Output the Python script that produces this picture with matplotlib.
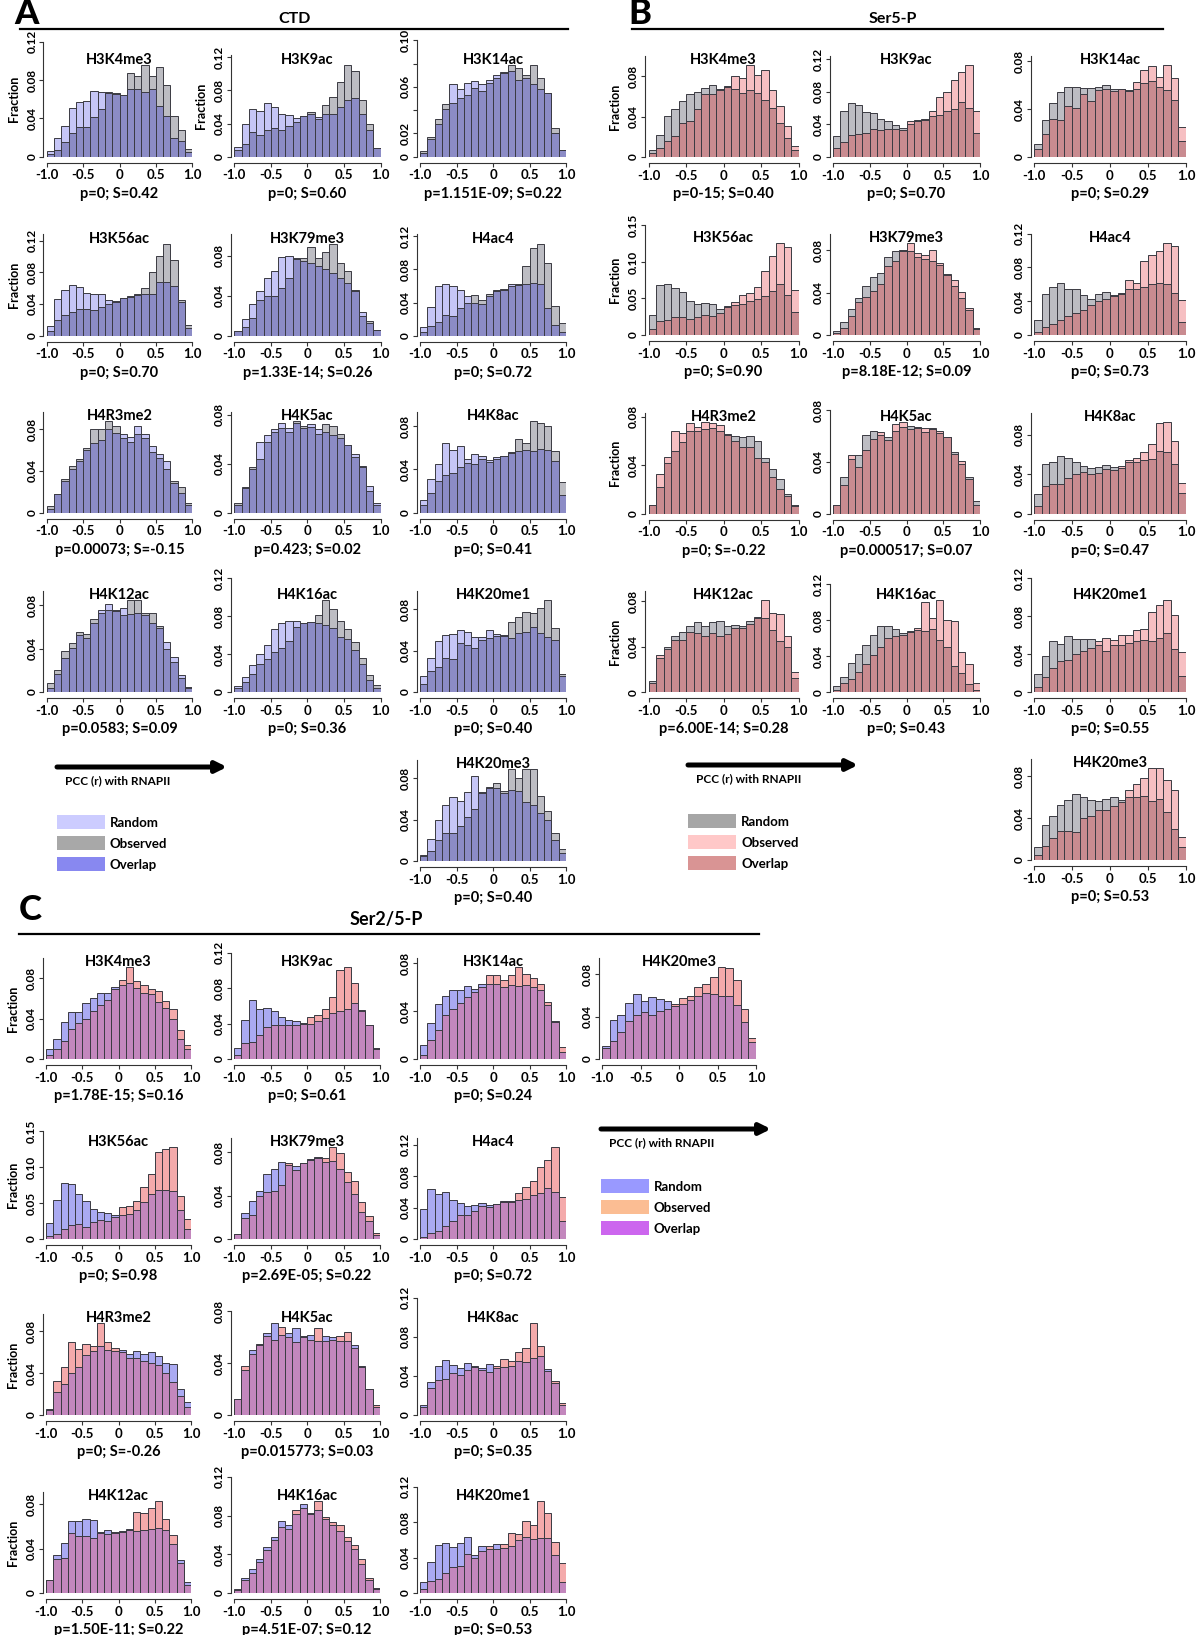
import numpy as np
import matplotlib
matplotlib.use("Agg")
from matplotlib import pyplot as plt
from matplotlib.patches import Rectangle

plt.rcParams['font.family'] = ['Liberation Sans Narrow', 'Lato', 'DejaVu Sans']
plt.rcParams['font.weight'] = 'bold'

BIN_EDGES = np.linspace(-1.0, 1.0, 21)
X_TICKS = [-1.0, -0.5, 0.0, 0.5, 1.0]
X_LABELS = ['-1.0', '-0.5', '0', '0.5', '1.0']

# ---------------- A : CTD ----------------
ctd_marks = ['H3K4me3', 'H3K9ac', 'H3K14ac', 'H3K56ac', 'H3K79me3', 'H4ac4', 'H4R3me2',
             'H4K5ac', 'H4K8ac', 'H4K12ac', 'H4K16ac', 'H4K20me1', 'H4K20me3']
ctd_stats = ['p=0; S=0.42', 'p=0; S=0.60', 'p=1.151E-09; S=0.22', 'p=0; S=0.70',
             'p=1.33E-14; S=0.26', 'p=0; S=0.72', 'p=0.00073; S=-0.15', 'p=0.423; S=0.02',
             'p=0; S=0.41', 'p=0.0583; S=0.09', 'p=0; S=0.36', 'p=0; S=0.40', 'p=0; S=0.40']
ctd_yticks = [[0, .04, .08, .12], [0, .04, .08, .12], [0, .02, .04, .06, .08, .10],
              [0, .04, .08, .12], [0, .04, .08], [0, .04, .08, .12], [0, .04, .08],
              [0, .04, .08], [0, .04, .08], [0, .04, .08], [0, .04, .08, .12],
              [0, .04, .08], [0, .04, .08]]
ctd_random = [
    [0.006, 0.020, 0.032, 0.051, 0.057, 0.058, 0.069, 0.067, 0.067, 0.066, 0.064, 0.071, 0.071, 0.067, 0.071, 0.053, 0.042, 0.020, 0.016, 0.005],
    [0.012, 0.039, 0.058, 0.055, 0.065, 0.060, 0.052, 0.050, 0.047, 0.049, 0.052, 0.048, 0.052, 0.052, 0.060, 0.069, 0.071, 0.052, 0.032, 0.011],
    [0.003, 0.015, 0.028, 0.041, 0.062, 0.058, 0.063, 0.065, 0.062, 0.066, 0.070, 0.072, 0.074, 0.066, 0.068, 0.062, 0.058, 0.055, 0.020, 0.006],
    [0.012, 0.046, 0.057, 0.064, 0.061, 0.054, 0.052, 0.053, 0.045, 0.044, 0.048, 0.050, 0.051, 0.053, 0.053, 0.068, 0.068, 0.063, 0.043, 0.010],
    [0.005, 0.017, 0.032, 0.045, 0.058, 0.065, 0.079, 0.080, 0.078, 0.075, 0.073, 0.070, 0.067, 0.063, 0.058, 0.053, 0.045, 0.024, 0.013, 0.006],
    [0.010, 0.035, 0.060, 0.062, 0.060, 0.055, 0.048, 0.040, 0.038, 0.048, 0.054, 0.055, 0.062, 0.061, 0.062, 0.063, 0.062, 0.033, 0.013, 0.005],
    [0.004, 0.018, 0.030, 0.042, 0.049, 0.060, 0.067, 0.070, 0.080, 0.076, 0.075, 0.072, 0.083, 0.075, 0.064, 0.056, 0.049, 0.028, 0.019, 0.007],
    [0.006, 0.020, 0.036, 0.058, 0.063, 0.068, 0.073, 0.069, 0.073, 0.069, 0.072, 0.068, 0.066, 0.063, 0.061, 0.055, 0.048, 0.038, 0.022, 0.008],
    [0.012, 0.031, 0.045, 0.064, 0.058, 0.062, 0.050, 0.054, 0.052, 0.049, 0.051, 0.052, 0.055, 0.057, 0.058, 0.057, 0.059, 0.058, 0.048, 0.016],
    [0.004, 0.017, 0.031, 0.041, 0.053, 0.050, 0.064, 0.076, 0.081, 0.076, 0.078, 0.072, 0.073, 0.071, 0.064, 0.059, 0.046, 0.032, 0.016, 0.004],
    [0.006, 0.016, 0.028, 0.040, 0.050, 0.066, 0.073, 0.075, 0.075, 0.073, 0.074, 0.073, 0.071, 0.067, 0.058, 0.056, 0.044, 0.030, 0.013, 0.004],
    [0.015, 0.033, 0.049, 0.055, 0.056, 0.060, 0.058, 0.053, 0.053, 0.060, 0.056, 0.055, 0.052, 0.057, 0.058, 0.063, 0.057, 0.053, 0.050, 0.015],
    [0.005, 0.021, 0.040, 0.054, 0.062, 0.058, 0.067, 0.082, 0.066, 0.071, 0.071, 0.066, 0.069, 0.068, 0.057, 0.054, 0.046, 0.040, 0.020, 0.008],
]
ctd_observed = [
    [0.003, 0.007, 0.015, 0.025, 0.031, 0.031, 0.041, 0.050, 0.066, 0.065, 0.064, 0.087, 0.084, 0.096, 0.084, 0.094, 0.075, 0.042, 0.028, 0.008],
    [0.008, 0.015, 0.030, 0.026, 0.032, 0.035, 0.032, 0.037, 0.042, 0.049, 0.054, 0.045, 0.062, 0.072, 0.090, 0.111, 0.103, 0.068, 0.040, 0.010],
    [0.005, 0.017, 0.032, 0.045, 0.046, 0.050, 0.053, 0.059, 0.056, 0.063, 0.068, 0.073, 0.079, 0.076, 0.070, 0.079, 0.068, 0.055, 0.025, 0.006],
    [0.006, 0.020, 0.026, 0.030, 0.034, 0.034, 0.033, 0.036, 0.040, 0.042, 0.047, 0.049, 0.053, 0.060, 0.080, 0.101, 0.116, 0.096, 0.045, 0.014],
    [0.005, 0.009, 0.018, 0.036, 0.040, 0.040, 0.048, 0.058, 0.077, 0.078, 0.089, 0.078, 0.084, 0.092, 0.073, 0.065, 0.046, 0.020, 0.015, 0.006],
    [0.004, 0.012, 0.017, 0.025, 0.024, 0.034, 0.040, 0.049, 0.043, 0.050, 0.055, 0.056, 0.060, 0.062, 0.084, 0.106, 0.111, 0.088, 0.036, 0.015],
    [0.006, 0.018, 0.032, 0.045, 0.051, 0.062, 0.080, 0.080, 0.088, 0.083, 0.071, 0.068, 0.075, 0.071, 0.058, 0.052, 0.042, 0.030, 0.025, 0.009],
    [0.008, 0.021, 0.037, 0.044, 0.058, 0.066, 0.069, 0.066, 0.075, 0.071, 0.070, 0.064, 0.072, 0.071, 0.064, 0.055, 0.045, 0.037, 0.018, 0.006],
    [0.007, 0.018, 0.029, 0.035, 0.037, 0.042, 0.046, 0.045, 0.050, 0.047, 0.050, 0.052, 0.056, 0.068, 0.064, 0.085, 0.083, 0.080, 0.057, 0.028],
    [0.008, 0.020, 0.038, 0.045, 0.055, 0.054, 0.067, 0.073, 0.076, 0.075, 0.071, 0.085, 0.085, 0.073, 0.073, 0.061, 0.040, 0.028, 0.013, 0.005],
    [0.004, 0.011, 0.019, 0.030, 0.035, 0.042, 0.046, 0.054, 0.069, 0.073, 0.074, 0.081, 0.097, 0.088, 0.075, 0.066, 0.053, 0.036, 0.018, 0.007],
    [0.008, 0.020, 0.024, 0.033, 0.032, 0.047, 0.045, 0.043, 0.050, 0.052, 0.054, 0.054, 0.068, 0.073, 0.077, 0.076, 0.081, 0.089, 0.062, 0.017],
    [0.006, 0.010, 0.020, 0.027, 0.027, 0.034, 0.043, 0.050, 0.067, 0.072, 0.075, 0.068, 0.089, 0.080, 0.089, 0.089, 0.063, 0.048, 0.027, 0.012],
]

# ---------------- B : Ser5-P ----------------
ser5_marks = ctd_marks
ser5_stats = ['p=0-15; S=0.40', 'p=0; S=0.70', 'p=0; S=0.29', 'p=0; S=0.90',
              'p=8.18E-12; S=0.09', 'p=0; S=0.73', 'p=0; S=-0.22', 'p=0.000517; S=0.07',
              'p=0; S=0.47', 'p=6.00E-14; S=0.28', 'p=0; S=0.43', 'p=0; S=0.55', 'p=0; S=0.53']
ser5_yticks = [[0, .04, .08], [0, .04, .08, .12], [0, .04, .08], [0, .05, .10, .15],
               [0, .04, .08], [0, .04, .08, .12], [0, .04, .08], [0, .04, .08],
               [0, .04, .08], [0, .04, .08], [0, .04, .08, .12], [0, .04, .08, .12],
               [0, .04, .08]]
ser5_random = [
    [0.007, 0.022, 0.041, 0.047, 0.055, 0.062, 0.064, 0.068, 0.071, 0.066, 0.069, 0.067, 0.063, 0.066, 0.063, 0.056, 0.048, 0.034, 0.019, 0.007],
    [0.026, 0.056, 0.066, 0.064, 0.055, 0.054, 0.047, 0.044, 0.039, 0.036, 0.041, 0.044, 0.045, 0.050, 0.052, 0.057, 0.059, 0.068, 0.060, 0.029],
    [0.011, 0.031, 0.045, 0.054, 0.059, 0.059, 0.058, 0.058, 0.059, 0.060, 0.057, 0.057, 0.056, 0.057, 0.062, 0.064, 0.059, 0.056, 0.048, 0.013],
    [0.028, 0.068, 0.070, 0.064, 0.059, 0.047, 0.043, 0.044, 0.043, 0.036, 0.038, 0.041, 0.043, 0.046, 0.049, 0.054, 0.060, 0.070, 0.055, 0.032],
    [0.004, 0.012, 0.025, 0.035, 0.046, 0.055, 0.059, 0.074, 0.079, 0.079, 0.079, 0.074, 0.072, 0.070, 0.066, 0.057, 0.046, 0.035, 0.024, 0.007],
    [0.018, 0.048, 0.057, 0.062, 0.054, 0.054, 0.047, 0.043, 0.048, 0.051, 0.046, 0.049, 0.055, 0.054, 0.057, 0.060, 0.062, 0.061, 0.050, 0.015],
    [0.007, 0.022, 0.042, 0.052, 0.059, 0.068, 0.068, 0.070, 0.071, 0.068, 0.066, 0.064, 0.063, 0.064, 0.060, 0.046, 0.037, 0.029, 0.016, 0.006],
    [0.007, 0.028, 0.042, 0.045, 0.061, 0.064, 0.061, 0.059, 0.064, 0.067, 0.068, 0.066, 0.063, 0.066, 0.062, 0.059, 0.048, 0.038, 0.028, 0.010],
    [0.020, 0.050, 0.052, 0.058, 0.056, 0.052, 0.048, 0.046, 0.047, 0.049, 0.047, 0.046, 0.052, 0.052, 0.054, 0.055, 0.063, 0.062, 0.050, 0.021],
    [0.010, 0.030, 0.040, 0.050, 0.053, 0.058, 0.062, 0.058, 0.062, 0.063, 0.058, 0.059, 0.058, 0.063, 0.065, 0.065, 0.055, 0.045, 0.040, 0.013],
    [0.007, 0.017, 0.032, 0.043, 0.052, 0.063, 0.073, 0.073, 0.070, 0.066, 0.067, 0.069, 0.068, 0.070, 0.058, 0.050, 0.029, 0.021, 0.009, 0.002],
    [0.019, 0.038, 0.054, 0.051, 0.059, 0.056, 0.056, 0.056, 0.050, 0.044, 0.050, 0.050, 0.052, 0.054, 0.055, 0.054, 0.057, 0.062, 0.046, 0.017],
    [0.012, 0.033, 0.042, 0.053, 0.057, 0.063, 0.060, 0.057, 0.056, 0.058, 0.060, 0.057, 0.060, 0.060, 0.061, 0.056, 0.058, 0.046, 0.030, 0.012],
]
ser5_observed = [
    [0.004, 0.009, 0.016, 0.021, 0.034, 0.036, 0.047, 0.062, 0.062, 0.067, 0.070, 0.080, 0.078, 0.091, 0.081, 0.086, 0.066, 0.050, 0.031, 0.011],
    [0.011, 0.019, 0.027, 0.028, 0.029, 0.034, 0.033, 0.035, 0.034, 0.033, 0.044, 0.045, 0.047, 0.057, 0.074, 0.080, 0.095, 0.105, 0.113, 0.057],
    [0.007, 0.019, 0.032, 0.031, 0.043, 0.041, 0.053, 0.047, 0.056, 0.057, 0.055, 0.057, 0.055, 0.063, 0.073, 0.076, 0.067, 0.077, 0.066, 0.025],
    [0.008, 0.019, 0.020, 0.024, 0.025, 0.022, 0.025, 0.028, 0.026, 0.030, 0.040, 0.045, 0.055, 0.058, 0.066, 0.088, 0.108, 0.126, 0.121, 0.062],
    [0.002, 0.007, 0.018, 0.031, 0.036, 0.042, 0.048, 0.065, 0.070, 0.080, 0.087, 0.078, 0.076, 0.080, 0.068, 0.058, 0.052, 0.041, 0.026, 0.006],
    [0.003, 0.009, 0.013, 0.018, 0.023, 0.026, 0.030, 0.036, 0.040, 0.043, 0.047, 0.050, 0.065, 0.062, 0.088, 0.095, 0.100, 0.109, 0.105, 0.042],
    [0.007, 0.033, 0.047, 0.068, 0.067, 0.075, 0.072, 0.076, 0.075, 0.073, 0.065, 0.060, 0.055, 0.055, 0.046, 0.043, 0.030, 0.020, 0.015, 0.007],
    [0.007, 0.022, 0.045, 0.036, 0.049, 0.058, 0.063, 0.057, 0.069, 0.071, 0.065, 0.067, 0.066, 0.065, 0.064, 0.059, 0.046, 0.041, 0.027, 0.007],
    [0.008, 0.028, 0.030, 0.030, 0.036, 0.040, 0.042, 0.040, 0.041, 0.045, 0.044, 0.048, 0.054, 0.056, 0.062, 0.070, 0.092, 0.093, 0.073, 0.031],
    [0.008, 0.033, 0.038, 0.046, 0.046, 0.053, 0.052, 0.050, 0.052, 0.050, 0.051, 0.057, 0.057, 0.060, 0.066, 0.081, 0.070, 0.069, 0.050, 0.018],
    [0.003, 0.010, 0.015, 0.023, 0.031, 0.041, 0.050, 0.060, 0.062, 0.063, 0.068, 0.071, 0.100, 0.082, 0.102, 0.080, 0.079, 0.045, 0.031, 0.010],
    [0.006, 0.016, 0.026, 0.033, 0.034, 0.040, 0.044, 0.047, 0.054, 0.057, 0.055, 0.060, 0.060, 0.066, 0.067, 0.085, 0.092, 0.097, 0.081, 0.043],
    [0.005, 0.013, 0.021, 0.028, 0.028, 0.027, 0.040, 0.042, 0.048, 0.048, 0.052, 0.055, 0.067, 0.073, 0.078, 0.088, 0.088, 0.077, 0.067, 0.022],
]

# ---------------- C : Ser2/5-P ----------------
ser25_marks = ['H3K4me3', 'H3K9ac', 'H3K14ac', 'H4K20me3', 'H3K56ac', 'H3K79me3', 'H4ac4',
               'H4R3me2', 'H4K5ac', 'H4K8ac', 'H4K12ac', 'H4K16ac', 'H4K20me1']
ser25_stats = ['p=1.78E-15; S=0.16', 'p=0; S=0.61', 'p=0; S=0.24', '',
               'p=0; S=0.98', 'p=2.69E-05; S=0.22', 'p=0; S=0.72', 'p=0; S=-0.26',
               'p=0.015773; S=0.03', 'p=0; S=0.35', 'p=1.50E-11; S=0.22', 'p=4.51E-07; S=0.12',
               'p=0; S=0.53']
ser25_yticks = [[0, .04, .08], [0, .04, .08, .12], [0, .04, .08], [0, .04, .08],
                [0, .05, .10, .15], [0, .04, .08], [0, .04, .08, .12], [0, .04, .08],
                [0, .04, .08], [0, .04, .08, .12], [0, .04, .08], [0, .04, .08, .12],
                [0, .04, .08, .12]]
ser25_random = [
    [0.010, 0.020, 0.037, 0.046, 0.046, 0.055, 0.060, 0.065, 0.065, 0.071, 0.073, 0.075, 0.070, 0.065, 0.064, 0.056, 0.050, 0.040, 0.020, 0.010],
    [0.012, 0.044, 0.067, 0.057, 0.058, 0.054, 0.047, 0.044, 0.043, 0.041, 0.040, 0.043, 0.046, 0.052, 0.054, 0.056, 0.063, 0.054, 0.038, 0.011],
    [0.012, 0.030, 0.046, 0.053, 0.058, 0.058, 0.061, 0.059, 0.063, 0.063, 0.063, 0.060, 0.062, 0.061, 0.062, 0.060, 0.058, 0.045, 0.031, 0.006],
    [0.012, 0.037, 0.042, 0.053, 0.061, 0.055, 0.059, 0.057, 0.055, 0.050, 0.052, 0.056, 0.060, 0.062, 0.061, 0.060, 0.060, 0.051, 0.035, 0.016],
    [0.022, 0.054, 0.078, 0.076, 0.062, 0.053, 0.042, 0.038, 0.036, 0.034, 0.033, 0.035, 0.040, 0.052, 0.062, 0.068, 0.068, 0.067, 0.040, 0.014],
    [0.005, 0.024, 0.035, 0.044, 0.060, 0.065, 0.071, 0.068, 0.067, 0.070, 0.074, 0.076, 0.071, 0.072, 0.065, 0.053, 0.042, 0.025, 0.017, 0.004],
    [0.038, 0.063, 0.057, 0.060, 0.049, 0.046, 0.042, 0.043, 0.046, 0.043, 0.045, 0.047, 0.047, 0.049, 0.051, 0.056, 0.059, 0.065, 0.060, 0.023],
    [0.006, 0.022, 0.030, 0.040, 0.046, 0.057, 0.061, 0.066, 0.062, 0.061, 0.062, 0.058, 0.061, 0.058, 0.060, 0.056, 0.050, 0.049, 0.025, 0.012],
    [0.012, 0.035, 0.050, 0.054, 0.063, 0.071, 0.062, 0.063, 0.067, 0.061, 0.062, 0.057, 0.061, 0.060, 0.057, 0.057, 0.054, 0.038, 0.020, 0.006],
    [0.010, 0.034, 0.050, 0.056, 0.051, 0.048, 0.053, 0.050, 0.048, 0.052, 0.048, 0.049, 0.050, 0.055, 0.054, 0.058, 0.060, 0.047, 0.033, 0.010],
    [0.012, 0.034, 0.045, 0.065, 0.065, 0.067, 0.066, 0.055, 0.057, 0.054, 0.055, 0.058, 0.056, 0.057, 0.058, 0.059, 0.057, 0.044, 0.030, 0.010],
    [0.003, 0.015, 0.025, 0.035, 0.048, 0.058, 0.074, 0.070, 0.082, 0.092, 0.083, 0.086, 0.076, 0.070, 0.064, 0.054, 0.045, 0.030, 0.013, 0.004],
    [0.013, 0.035, 0.054, 0.057, 0.052, 0.057, 0.063, 0.043, 0.053, 0.050, 0.055, 0.051, 0.053, 0.060, 0.063, 0.061, 0.062, 0.062, 0.043, 0.013],
]
ser25_observed = [
    [0.004, 0.010, 0.018, 0.030, 0.036, 0.040, 0.047, 0.053, 0.058, 0.069, 0.078, 0.091, 0.077, 0.073, 0.069, 0.067, 0.057, 0.049, 0.029, 0.014],
    [0.005, 0.018, 0.019, 0.027, 0.036, 0.039, 0.038, 0.039, 0.038, 0.040, 0.047, 0.050, 0.057, 0.070, 0.101, 0.104, 0.086, 0.055, 0.038, 0.013],
    [0.003, 0.016, 0.024, 0.037, 0.042, 0.047, 0.052, 0.056, 0.060, 0.070, 0.070, 0.066, 0.070, 0.077, 0.071, 0.068, 0.063, 0.048, 0.032, 0.010],
    [0.010, 0.017, 0.026, 0.036, 0.042, 0.044, 0.042, 0.045, 0.047, 0.052, 0.058, 0.060, 0.068, 0.071, 0.078, 0.087, 0.086, 0.075, 0.047, 0.020],
    [0.004, 0.007, 0.014, 0.019, 0.021, 0.017, 0.023, 0.027, 0.025, 0.030, 0.044, 0.046, 0.053, 0.073, 0.091, 0.121, 0.125, 0.128, 0.060, 0.028],
    [0.005, 0.019, 0.022, 0.040, 0.043, 0.044, 0.050, 0.070, 0.064, 0.070, 0.073, 0.075, 0.075, 0.085, 0.079, 0.062, 0.054, 0.034, 0.021, 0.006],
    [0.002, 0.007, 0.010, 0.017, 0.023, 0.031, 0.030, 0.035, 0.042, 0.041, 0.044, 0.048, 0.048, 0.058, 0.066, 0.074, 0.092, 0.100, 0.117, 0.053],
    [0.005, 0.033, 0.046, 0.070, 0.063, 0.068, 0.066, 0.088, 0.070, 0.064, 0.060, 0.055, 0.055, 0.052, 0.050, 0.048, 0.040, 0.032, 0.018, 0.008],
    [0.012, 0.038, 0.047, 0.055, 0.061, 0.058, 0.068, 0.060, 0.056, 0.060, 0.058, 0.067, 0.057, 0.058, 0.061, 0.064, 0.052, 0.037, 0.020, 0.008],
    [0.008, 0.028, 0.036, 0.037, 0.043, 0.041, 0.046, 0.049, 0.046, 0.044, 0.050, 0.057, 0.055, 0.064, 0.068, 0.094, 0.071, 0.045, 0.035, 0.012],
    [0.012, 0.031, 0.032, 0.054, 0.051, 0.051, 0.050, 0.054, 0.053, 0.055, 0.056, 0.057, 0.073, 0.072, 0.077, 0.083, 0.067, 0.052, 0.027, 0.007],
    [0.004, 0.013, 0.021, 0.032, 0.044, 0.055, 0.068, 0.066, 0.086, 0.088, 0.082, 0.095, 0.078, 0.073, 0.070, 0.058, 0.050, 0.035, 0.015, 0.005],
    [0.004, 0.014, 0.016, 0.023, 0.029, 0.031, 0.044, 0.040, 0.048, 0.053, 0.050, 0.055, 0.068, 0.067, 0.081, 0.077, 0.104, 0.090, 0.058, 0.034],
]

# layout (pixels in the 1200 x 1635 canvas)
W, H = 1200, 1635
BAR_PX = 92
EDGE = '#3a3a42'

A_COLS = [(46.7, 192.3), (234.3, 380.5), (420, 566)]
A_ROWS = [156.7, 335.7, 512.7, 692, 861]
B_COLS = [(648.5, 798.6), (833, 980), (1034, 1186)]
B_ROWS = [157, 335, 513.7, 692.3, 860]
C_COLS = [(46, 191), (234, 380), (420, 566), (602, 756)]
C_ROWS = [1059, 1239, 1415, 1593]

AB_GRID = [(0, 0), (1, 0), (2, 0), (0, 1), (1, 1), (2, 1), (0, 2),
           (1, 2), (2, 2), (0, 3), (1, 3), (2, 3), (2, 4)]
C_GRID = [(0, 0), (1, 0), (2, 0), (3, 0), (0, 1), (1, 1), (2, 1),
          (0, 2), (1, 2), (2, 2), (0, 3), (1, 3), (2, 3)]

A_FILL = ('#c6c6f6', '#bdbdc3', '#8c8cc6')
B_FILL = ('#bdbdc3', '#f6bfc2', '#c98b90')
C_FILL = ('#aaaaf2', '#f4aaab', '#c387bd')

fig = plt.figure(figsize=(12, 16.35), dpi=100)
ov = fig.add_axes([0, 0, 1, 1])
ov.set_xlim(0, W)
ov.set_ylim(H, 0)
ov.axis('off')


def ylab(v):
    return '0' if v == 0 else '{0:.2f}'.format(v)


def draw_panel(xl, xr, y0, rand, obs, yticks, fills, title, stat, frac, hide=()):
    rand = np.asarray(rand)
    obs = np.asarray(obs)
    vmax = max(rand.max(), obs.max())
    ppu = BAR_PX / vmax
    ytop = max(yticks[-1], vmax * 1.1)
    hpx = ytop * ppu
    ax = fig.add_axes([xl / W, 1 - y0 / H, (xr - xl) / W, hpx / H])
    ax.set_facecolor('none')
    left = BIN_EDGES[:-1]
    width = np.diff(BIN_EDGES)
    hi = np.maximum(rand, obs)
    lo = np.minimum(rand, obs)
    hi_col = [fills[0] if r > o else fills[1] for r, o in zip(rand, obs)]
    ax.bar(left, hi, width, align='edge', color=hi_col, edgecolor=EDGE, linewidth=0.7)
    ax.bar(left, lo, width, align='edge', color=fills[2], edgecolor=EDGE, linewidth=0.7)
    ax.set_xlim(-1, 1)
    ax.set_ylim(0, ytop)
    for s in ['top', 'right']:
        ax.spines[s].set_visible(False)
    ax.spines['bottom'].set_position(('outward', 4.3))
    ax.spines['left'].set_position(('outward', 2.4))
    ax.spines['bottom'].set_bounds(-1, 1)
    ax.spines['left'].set_bounds(0, ytop)
    for s in ['bottom', 'left']:
        ax.spines[s].set_linewidth(0.8)
        ax.spines[s].set_color('#333333')
    ax.set_xticks(X_TICKS)
    ax.set_xticklabels(X_LABELS)
    ax.set_yticks(yticks)
    ax.set_yticklabels(['' if v in hide else ylab(v) for v in yticks],
                       rotation=90, va='center')
    ax.tick_params(axis='both', length=2.9, width=0.8, color='#333333')
    ax.tick_params(axis='x', pad=2.0, labelsize=9.5)
    ax.tick_params(axis='y', pad=1.5, labelsize=8.5)
    xc = (xl + xr) / 2
    ov.text(xc, y0 - 97, title, ha='center', va='center', fontsize=10.5, fontweight='bold')
    if stat:
        ov.text(xc, y0 + 37, stat, ha='center', va='center', fontsize=10.5, fontweight='bold')
    if frac:
        ov.text(xl - 33, y0 - hpx / 2, 'Fraction', rotation=90, ha='center', va='center',
                fontsize=9, fontweight='bold')


# section A
for i, (c, r) in enumerate(AB_GRID):
    hide = (0.04, 0.08) if ctd_marks[i] == 'H3K14ac' else ()
    frac = i in (0, 1, 3)
    draw_panel(A_COLS[c][0], A_COLS[c][1], A_ROWS[r], ctd_random[i], ctd_observed[i],
               ctd_yticks[i], A_FILL, ctd_marks[i], ctd_stats[i], frac, hide)

# section B
for i, (c, r) in enumerate(AB_GRID):
    frac = c == 0
    draw_panel(B_COLS[c][0], B_COLS[c][1], B_ROWS[r], ser5_random[i], ser5_observed[i],
               ser5_yticks[i], B_FILL, ser5_marks[i], ser5_stats[i], frac)

# section C
for i, (c, r) in enumerate(C_GRID):
    frac = c == 0
    draw_panel(C_COLS[c][0], C_COLS[c][1], C_ROWS[r], ser25_random[i], ser25_observed[i],
               ser25_yticks[i], C_FILL, ser25_marks[i], ser25_stats[i], frac)

# headers
ov.text(27, 14, 'A', ha='center', va='center', fontsize=25, fontweight='black')
ov.text(295, 19, 'CTD', ha='center', va='center', fontsize=11.5, fontweight='bold')
ov.plot([20, 568], [29, 29], color='black', lw=1.6)
ov.text(640, 14, 'B', ha='center', va='center', fontsize=25, fontweight='black')
ov.text(893, 19, 'Ser5-P', ha='center', va='center', fontsize=11.5, fontweight='bold')
ov.plot([632, 1163], [29, 29], color='black', lw=1.6)
ov.text(30, 910, 'C', ha='center', va='center', fontsize=25, fontweight='black')
ov.text(386, 919, 'Ser2/5-P', ha='center', va='center', fontsize=13, fontweight='bold')
ov.plot([19, 759], [934, 934], color='black', lw=1.6)


def arrow_legend(x0, y_arrow, y_leg, names, colors):
    ov.annotate('', xy=(x0 + 170, y_arrow), xytext=(x0, y_arrow),
                arrowprops=dict(arrowstyle='-|>', lw=3.6, color='black',
                                mutation_scale=16, shrinkA=0, shrinkB=0))
    ov.text(x0 + 8, y_arrow + 14, 'PCC (r) with RNAPII', ha='left', va='center',
            fontsize=8.5, fontweight='bold')
    for k, (nm, col) in enumerate(zip(names, colors)):
        yc = y_leg + k * 21
        ov.add_patch(Rectangle((x0, yc - 7), 48, 14, facecolor=col, edgecolor='none'))
        ov.text(x0 + 53, yc + 1, nm, ha='left', va='center', fontsize=9.5, fontweight='bold')


LEG_NAMES = ['Random', 'Observed', 'Overlap']
arrow_legend(57, 767, 822, LEG_NAMES, ['#ccccff', '#a8a8a8', '#8888f0'])
arrow_legend(688, 765, 821, LEG_NAMES, ['#a6a6a6', '#ffc8c8', '#d99494'])
arrow_legend(601, 1129, 1186, LEG_NAMES, ['#9999ff', '#fbbd93', '#cc66ee'])

fig.savefig('out.png', dpi=100)
